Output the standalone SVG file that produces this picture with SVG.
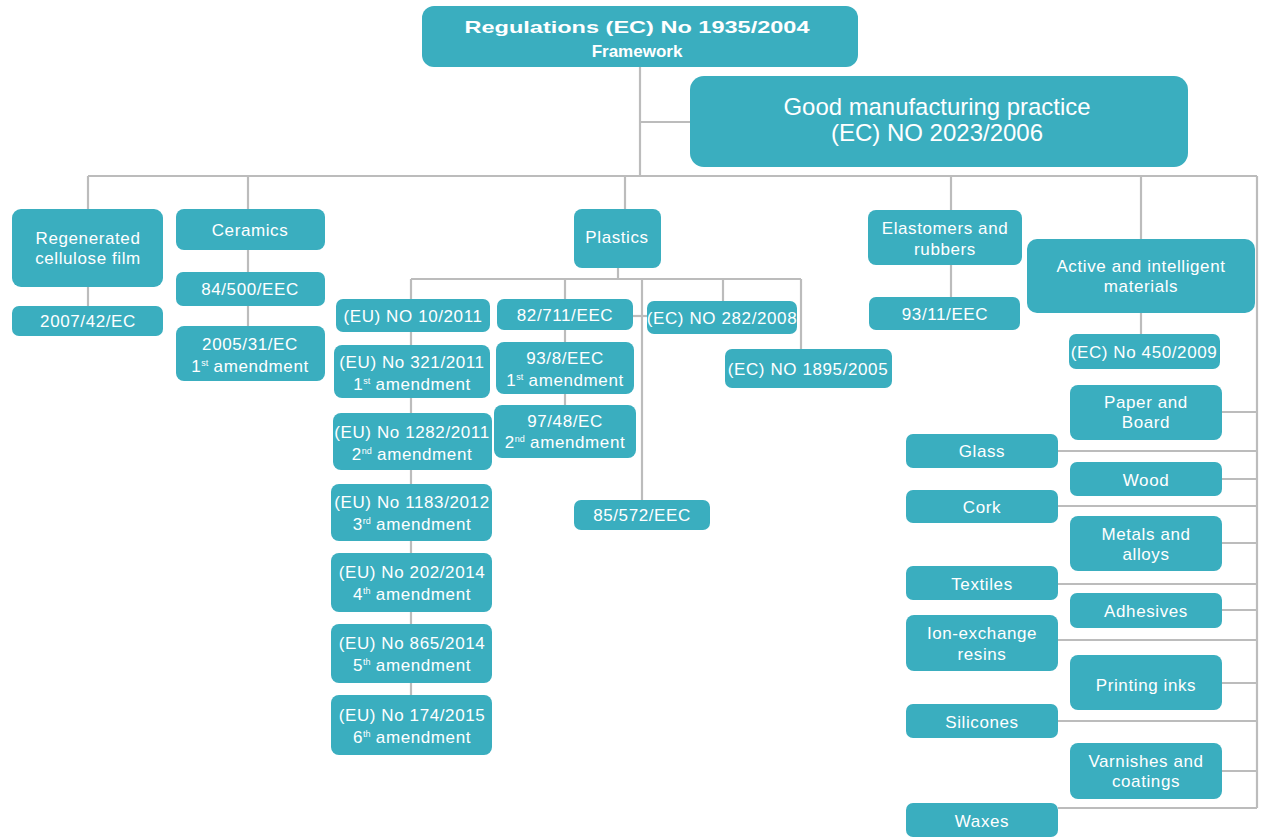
<svg xmlns="http://www.w3.org/2000/svg" width="1275" height="839" viewBox="0 0 1275 839">
<style>
.b{fill:#3aaebf;}
.t{fill:#ffffff;font-family:"Liberation Sans",Arial,sans-serif;font-size:17px;letter-spacing:0.6px;text-anchor:middle;}
.big{font-size:24px;letter-spacing:0;}
.bold{font-weight:bold;letter-spacing:0;}
.c line{stroke:#bcbcbc;stroke-width:2.2;}
.sup{font-size:9px;letter-spacing:0;}
</style>
<rect width="1275" height="839" fill="#ffffff"/>
<g class="c">
<line x1="640" y1="67" x2="640" y2="176"/>
<line x1="640" y1="122" x2="690" y2="122"/>
<line x1="88" y1="176" x2="1257" y2="176"/>
<line x1="88" y1="176" x2="88" y2="209"/>
<line x1="248" y1="176" x2="248" y2="209"/>
<line x1="625" y1="176" x2="625" y2="209"/>
<line x1="951" y1="176" x2="951" y2="210"/>
<line x1="1141" y1="176" x2="1141" y2="239"/>
<line x1="1257" y1="176" x2="1257" y2="808"/>
<line x1="88" y1="287" x2="88" y2="306"/>
<line x1="248" y1="250" x2="248" y2="326"/>
<line x1="618" y1="268" x2="618" y2="279"/>
<line x1="411" y1="279" x2="801" y2="279"/>
<line x1="411" y1="279" x2="411" y2="695"/>
<line x1="565" y1="279" x2="565" y2="405"/>
<line x1="642" y1="279" x2="642" y2="500"/>
<line x1="633" y1="316" x2="647" y2="316"/>
<line x1="723" y1="279" x2="723" y2="301"/>
<line x1="801" y1="279" x2="801" y2="349"/>
<line x1="951" y1="265" x2="951" y2="297"/>
<line x1="1141" y1="313" x2="1141" y2="334"/>
<line x1="1222" y1="412" x2="1257" y2="412"/>
<line x1="1058" y1="451" x2="1257" y2="451"/>
<line x1="1222" y1="479" x2="1257" y2="479"/>
<line x1="1058" y1="506" x2="1257" y2="506"/>
<line x1="1222" y1="543" x2="1257" y2="543"/>
<line x1="1058" y1="584" x2="1257" y2="584"/>
<line x1="1222" y1="610" x2="1257" y2="610"/>
<line x1="1058" y1="640" x2="1257" y2="640"/>
<line x1="1222" y1="683" x2="1257" y2="683"/>
<line x1="1058" y1="721" x2="1257" y2="721"/>
<line x1="1222" y1="771" x2="1257" y2="771"/>
<line x1="1058" y1="808" x2="1257" y2="808"/>
</g>
<g id="framework"><rect class="b" x="422" y="6" width="436" height="61" rx="12"/>
<text class="t bold" x="637" y="33" font-size="23" textLength="345" lengthAdjust="spacingAndGlyphs">Regulations (EC) No 1935/2004</text>
<text class="t bold" x="637" y="57" font-size="19">Framework</text></g>
<g id="gmp"><rect class="b" x="690" y="76" width="498" height="91" rx="14"/>
<text class="t big" x="937" y="115" textLength="307" lengthAdjust="spacingAndGlyphs">Good manufacturing practice</text>
<text class="t big" x="937" y="141">(EC) NO 2023/2006</text></g>
<g id="rcf"><rect class="b" x="12" y="209" width="151" height="78" rx="9"/>
<text class="t" x="88" y="244">Regenerated</text><text class="t" x="88" y="264">cellulose film</text></g>
<g id="rcf1"><rect class="b" x="12" y="306" width="151" height="30" rx="7"/><text class="t" x="88" y="327">2007/42/EC</text></g>
<g id="ceramics"><rect class="b" x="176" y="209" width="149" height="41" rx="8"/><text class="t" x="250" y="236">Ceramics</text></g>
<g id="cer1"><rect class="b" x="176" y="272" width="149" height="34" rx="7"/><text class="t" x="250" y="295">84/500/EEC</text></g>
<g id="cer2"><rect class="b" x="176" y="326" width="149" height="55" rx="8"/><text class="t" x="250" y="350">2005/31/EC</text><text class="t" x="250" y="372">1<tspan class="sup" dy="-6">st</tspan><tspan dy="6"> amendment</tspan></text></g>
<g id="plastics"><rect class="b" x="574" y="209" width="87" height="59" rx="8"/><text class="t" x="617" y="243">Plastics</text></g>
<g id="p10"><rect class="b" x="336" y="299" width="154" height="33" rx="7"/><text class="t" x="413" y="322">(EU) NO 10/2011</text></g>
<g id="p321"><rect class="b" x="334" y="345" width="156" height="53" rx="8"/><text class="t" x="412" y="368">(EU) No 321/2011</text><text class="t" x="412" y="390">1<tspan class="sup" dy="-6">st</tspan><tspan dy="6"> amendment</tspan></text></g>
<g id="p1282"><rect class="b" x="333" y="413" width="159" height="57" rx="8"/><text class="t" x="412" y="438">(EU) No 1282/2011</text><text class="t" x="412" y="460">2<tspan class="sup" dy="-6">nd</tspan><tspan dy="6"> amendment</tspan></text></g>
<g id="p1183"><rect class="b" x="331" y="484" width="161" height="57" rx="8"/><text class="t" x="412" y="508">(EU) No 1183/2012</text><text class="t" x="412" y="530">3<tspan class="sup" dy="-6">rd</tspan><tspan dy="6"> amendment</tspan></text></g>
<g id="p202"><rect class="b" x="331" y="553" width="161" height="59" rx="8"/><text class="t" x="412" y="578">(EU) No 202/2014</text><text class="t" x="412" y="600">4<tspan class="sup" dy="-6">th</tspan><tspan dy="6"> amendment</tspan></text></g>
<g id="p865"><rect class="b" x="331" y="624" width="161" height="59" rx="8"/><text class="t" x="412" y="649">(EU) No 865/2014</text><text class="t" x="412" y="671">5<tspan class="sup" dy="-6">th</tspan><tspan dy="6"> amendment</tspan></text></g>
<g id="p174"><rect class="b" x="331" y="695" width="161" height="60" rx="8"/><text class="t" x="412" y="721">(EU) No 174/2015</text><text class="t" x="412" y="743">6<tspan class="sup" dy="-6">th</tspan><tspan dy="6"> amendment</tspan></text></g>
<g id="p82"><rect class="b" x="497" y="299" width="136" height="31" rx="7"/><text class="t" x="565" y="321">82/711/EEC</text></g>
<g id="p93"><rect class="b" x="496" y="342" width="138" height="52" rx="8"/><text class="t" x="565" y="364">93/8/EEC</text><text class="t" x="565" y="386">1<tspan class="sup" dy="-6">st</tspan><tspan dy="6"> amendment</tspan></text></g>
<g id="p97"><rect class="b" x="494" y="405" width="142" height="53" rx="8"/><text class="t" x="565" y="427">97/48/EC</text><text class="t" x="565" y="448">2<tspan class="sup" dy="-6">nd</tspan><tspan dy="6"> amendment</tspan></text></g>
<g id="p85"><rect class="b" x="574" y="500" width="136" height="30" rx="7"/><text class="t" x="642" y="521">85/572/EEC</text></g>
<g id="p282"><rect class="b" x="647" y="301" width="150" height="33" rx="7"/><text class="t" x="722" y="324">(EC) NO 282/2008</text></g>
<g id="p1895"><rect class="b" x="725" y="349" width="167" height="39" rx="7"/><text class="t" x="808" y="375">(EC) NO 1895/2005</text></g>
<g id="elastomers"><rect class="b" x="868" y="210" width="154" height="55" rx="8"/><text class="t" x="945" y="234">Elastomers and</text><text class="t" x="945" y="255">rubbers</text></g>
<g id="e93"><rect class="b" x="869" y="297" width="151" height="33" rx="7"/><text class="t" x="945" y="320">93/11/EEC</text></g>
<g id="active"><rect class="b" x="1027" y="239" width="228" height="74" rx="10"/><text class="t" x="1141" y="272">Active and intelligent</text><text class="t" x="1141" y="292">materials</text></g>
<g id="a450"><rect class="b" x="1069" y="334" width="151" height="35" rx="7"/><text class="t" x="1144" y="358">(EC) No 450/2009</text></g>
<g id="paper"><rect class="b" x="1070" y="385" width="152" height="55" rx="8"/><text class="t" x="1146" y="408">Paper and</text><text class="t" x="1146" y="428">Board</text></g>
<g id="wood"><rect class="b" x="1070" y="462" width="152" height="34" rx="7"/><text class="t" x="1146" y="486">Wood</text></g>
<g id="metals"><rect class="b" x="1070" y="516" width="152" height="55" rx="8"/><text class="t" x="1146" y="540">Metals and</text><text class="t" x="1146" y="560">alloys</text></g>
<g id="adhesives"><rect class="b" x="1070" y="593" width="152" height="35" rx="7"/><text class="t" x="1146" y="617">Adhesives</text></g>
<g id="inks"><rect class="b" x="1070" y="655" width="152" height="55" rx="8"/><text class="t" x="1146" y="691">Printing inks</text></g>
<g id="varnishes"><rect class="b" x="1070" y="743" width="152" height="56" rx="8"/><text class="t" x="1146" y="767">Varnishes and</text><text class="t" x="1146" y="787">coatings</text></g>
<g id="glass"><rect class="b" x="906" y="434" width="152" height="34" rx="7"/><text class="t" x="982" y="457">Glass</text></g>
<g id="cork"><rect class="b" x="906" y="490" width="152" height="33" rx="7"/><text class="t" x="982" y="513">Cork</text></g>
<g id="textiles"><rect class="b" x="906" y="566" width="152" height="34" rx="7"/><text class="t" x="982" y="590">Textiles</text></g>
<g id="ion"><rect class="b" x="906" y="615" width="152" height="56" rx="8"/><text class="t" x="982" y="639">Ion-exchange</text><text class="t" x="982" y="660">resins</text></g>
<g id="silicones"><rect class="b" x="906" y="704" width="152" height="34" rx="7"/><text class="t" x="982" y="728">Silicones</text></g>
<g id="waxes"><rect class="b" x="906" y="803" width="152" height="34" rx="7"/><text class="t" x="982" y="827">Waxes</text></g>
</svg>
